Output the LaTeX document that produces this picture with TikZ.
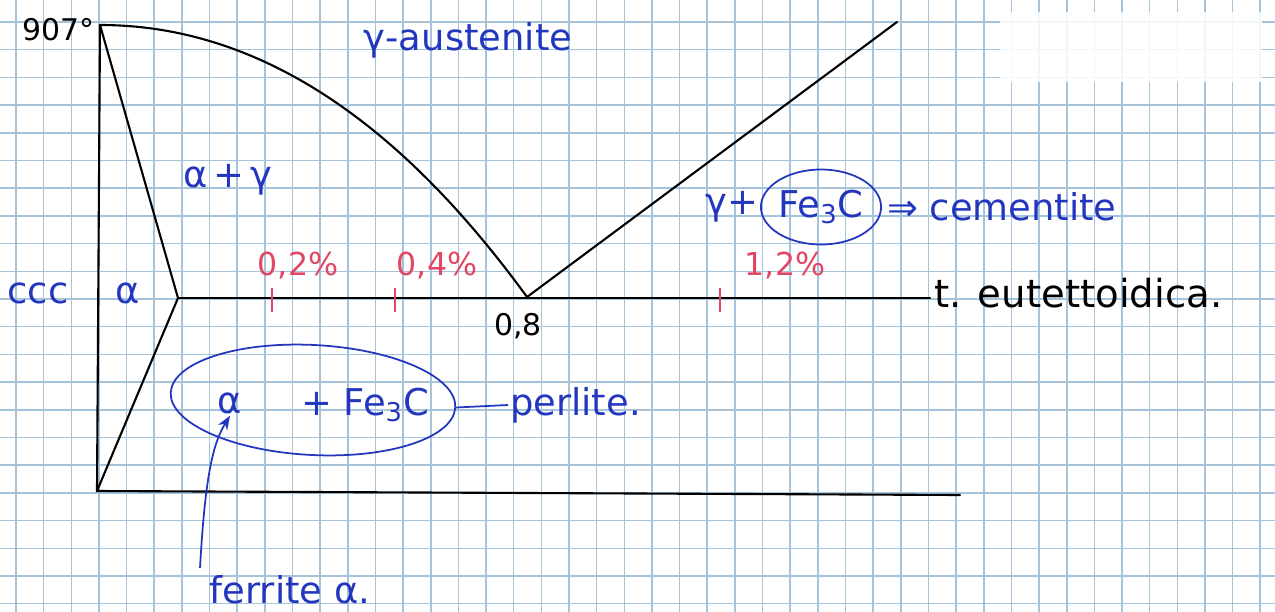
\documentclass[tikz,border=0pt]{standalone}
\usepackage{fontspec}
\setmainfont{DejaVu Sans}
\usetikzlibrary{shapes.geometric,arrows.meta}
\definecolor{inkblue}{RGB}{35,55,190}
\definecolor{inkred}{RGB}{225,70,100}
\definecolor{gridblue}{RGB}{165,195,218}
\begin{document}
\begin{tikzpicture}[
        x=0.02cm, y=-0.02cm,
        phaseline/.style = {draw, line width=1.2pt, line cap=round},
        bluetext/.style = {text=inkblue, font=\fontsize{21}{24}\selectfont, inner sep=1pt},
        redtext/.style = {text=inkred, font=\fontsize{18}{21}\selectfont, inner sep=1pt},
        blacktext/.style = {font=\fontsize{17}{20}\selectfont, inner sep=1pt},
        pctick/.style = {draw=inkred, line width=1pt},
        inkloop/.style = {draw=inkblue, line width=1pt, ellipse, inner sep=0pt},
        inkline/.style = {draw=inkblue, line width=1pt},
        paperline/.style = {draw=gridblue, line width=0.9pt}
    ]
    \useasboundingbox (0,0) rectangle (1275,612);
    \fill[white] (0,0) rectangle (1275,612);
    % squared paper
    \foreach \gx in {16,43.65,...,1275} \draw[paperline] (\gx,0) -- (\gx,612);
    \foreach \gy in {22,49.7,...,612} \draw[paperline] (0,\gy) -- (1275,\gy);
    \fill[white, opacity=0.85] (1000,12) rectangle (1262,82);

    \coordinate (top) at (100,25);
    \coordinate (alphaEnd) at (178,298);
    \coordinate (eut) at (527,297);
    \coordinate (cemTop) at (897,22);
    \coordinate (eutR) at (930,298);
    \coordinate (botL) at (97,491);
    \coordinate (botR) at (960,495);

    \draw[phaseline] (top) -- (botL);
    \draw[phaseline] (top) -- (alphaEnd) -- (botL);
    \draw[phaseline] (alphaEnd) -- (eutR);
    \draw[phaseline] (top) .. controls (280,25) and (420,150) .. (eut) -- (cemTop);
    \draw[phaseline] (botL) -- (botR);

    \node[blacktext] (t907) at (58,30) {907°};
    \node[bluetext] (aust) at (468,40) {γ-austenite};
    \node[bluetext] (alphagamma) at (228,180) {α\,+\,γ};
    \node[bluetext] (ccc) at (38,293) {ccc};
    \node[bluetext] (alphaL) at (128,293) {α};
    \node[blacktext] (c08) at (518,326) {0,8};
    \node[blacktext, font=\fontsize{22}{25}\selectfont, anchor=west] (teut) at (932,293) {t. eutettoidica.};

    \foreach \x/\lx/\txt in {272/298/{0,2\%}, 395/437/{0,4\%}, 720/785/{1,2\%}} {
        \draw[pctick] (\x,288) -- (\x,312);
        \node[redtext] (pc\x) at (\lx,266) {\txt};
    }

    \node[bluetext, inkloop, minimum width=1.6cm, minimum height=1.5cm] (fe3c) at (821,207) {Fe\textsubscript{3}C};
    \node[bluetext, anchor=east] (gplus) at (fe3c.west) {γ+};
    \node[bluetext, anchor=west] (cem) at (885,207) {⇒ cementite};

    \node[inkloop, minimum width=5.7cm, minimum height=2.2cm, rotate=-3] (perl) at (313,400) {};
    \node[bluetext] (alphaP) at (230,403) {α};
    \node[bluetext] (fe3cP) at (365,405) {+ Fe\textsubscript{3}C};
    \node[bluetext, anchor=west] (perlTxt) at (508,405) {perlite.};
    \draw[inkline] (perl.east) -- (perlTxt.west);

    \node[bluetext] (ferr) at (290,590) {ferrite α.};
    \coordinate (ferrStart) at (200,568);
    \draw[inkline, -{Stealth[length=8pt]}] (ferrStart) .. controls (205,480) and (212,445) .. (alphaP.south);
\end{tikzpicture}
\end{document}
